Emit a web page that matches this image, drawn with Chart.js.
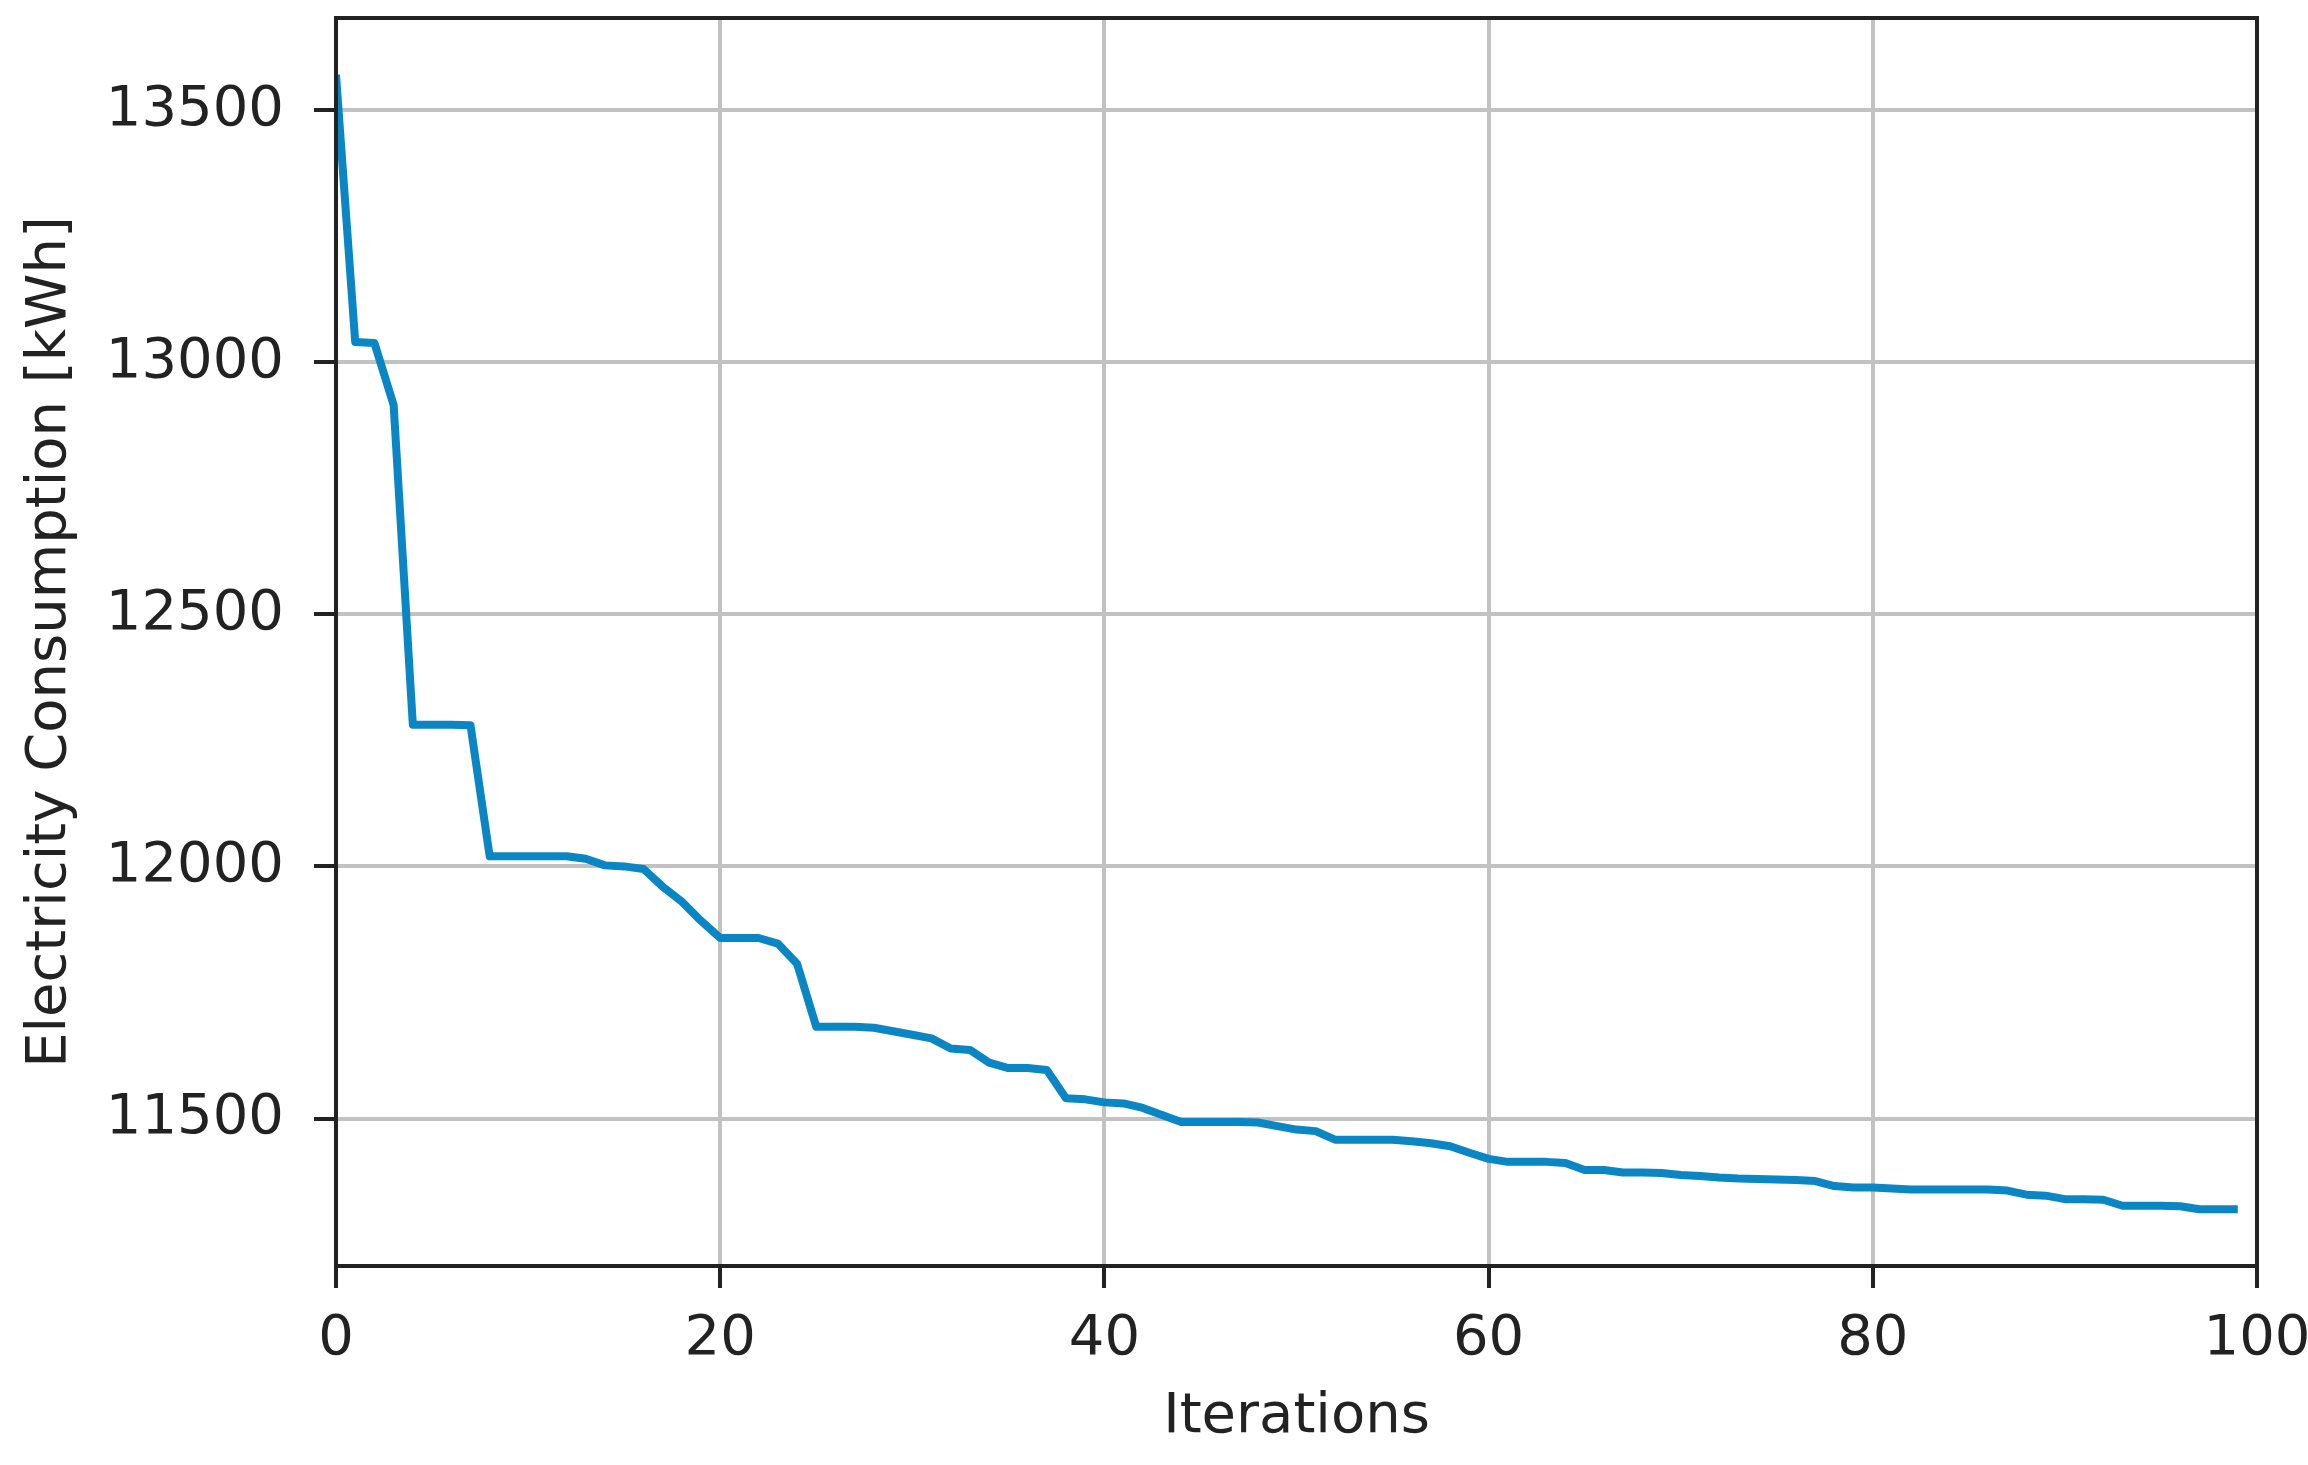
<!DOCTYPE html>
<html>
<head>
<meta charset="utf-8">
<script src="https://cdn.jsdelivr.net/npm/chart.js@4.4.1/dist/chart.umd.min.js"></script>
<style>
  html, body { margin: 0; padding: 0; background: #fff; }
  #wrap { width: 2308px; height: 1465px; position: relative; }
</style>
</head>
<body>
<div id="wrap"><canvas id="chart"></canvas></div>
<script>
// Iteration index (x axis)
const iterations = Array.from({ length: 100 }, (_, i) => i);

// Electricity consumption per iteration [kWh]
const consumption = [
    13570, 13040, 13038, 12915, 12281, 12281, 12281, 12280, 12020, 12020,
    12020, 12020, 12020, 12015, 12002, 12000, 11995, 11960, 11930, 11892,
    11858, 11858, 11858, 11847, 11807, 11682, 11682, 11682, 11680, 11673,
    11666, 11659, 11639, 11636, 11611, 11600, 11600, 11596, 11540, 11538,
    11532, 11530, 11521, 11507, 11493, 11493, 11493, 11493, 11492, 11485,
    11478, 11475, 11458, 11458, 11458, 11458, 11455, 11451, 11445, 11432,
    11420, 11414, 11414, 11414, 11412, 11398, 11398, 11393, 11393, 11392,
    11388, 11386, 11383, 11381, 11380, 11379, 11378, 11376, 11366, 11363,
    11363, 11361, 11359, 11359, 11359, 11359, 11359, 11357, 11349, 11347,
    11340, 11340, 11339, 11327, 11327, 11327, 11326, 11320, 11320, 11320
];

// Axis ticks and limits
const xTicks = [0, 20, 40, 60, 80, 100];
const yTicks = [11500, 12000, 12500, 13000, 13500];
const xLimits = [0, 100];
const yLimits = [11207.5, 13682.5];

const ink = '#222222';
const gridColor = '#c2c2c2';
const fontFamily = "'DejaVu Sans', sans-serif";

// Draw the full box around the plot area (matplotlib style spines)
const frame = {
    id: 'frame',
    afterDraw(chart) {
        const { ctx, chartArea: a } = chart;
        ctx.save();
        ctx.strokeStyle = ink;
        ctx.lineWidth = 4;
        ctx.strokeRect(a.left, a.top, a.right - a.left, a.bottom - a.top);
        ctx.restore();
    }
};

new Chart(document.getElementById('chart'), {
    type: 'line',
    data: {
        labels: iterations,
        datasets: [{
            data: consumption,
            borderColor: '#0a86c4',
            borderWidth: 8,
            tension: 0,
            pointRadius: 0,
            borderJoinStyle: 'round',
            fill: false
        }]
    },
    options: {
        responsive: true,
        maintainAspectRatio: false,
        animation: false,
        events: [],
        layout: { padding: { top: 18, right: 51, bottom: 0, left: 0 } },
        plugins: { legend: { display: false }, tooltip: { enabled: false } },
        scales: {
            x: {
                type: 'linear',
                min: xLimits[0],
                max: xLimits[1],
                afterBuildTicks: scale => { scale.ticks = xTicks.map(v => ({ value: v })); },
                afterFit: scale => {
                    scale.height = 199;
                    scale.paddingLeft = 0;
                    scale.paddingRight = 0;
                },
                border: { display: false },
                grid: { color: gridColor, lineWidth: 4, tickLength: 22, tickColor: ink, tickWidth: 4 },
                ticks: {
                    color: ink,
                    padding: 18,
                    maxRotation: 0,
                    callback: v => String(v),
                    font: { family: fontFamily, size: 56 }
                },
                title: {
                    display: true,
                    text: 'Iterations',
                    color: ink,
                    padding: { top: 0, bottom: 14 },
                    font: { family: fontFamily, size: 56 }
                }
            },
            y: {
                min: yLimits[0],
                max: yLimits[1],
                afterBuildTicks: scale => { scale.ticks = yTicks.map(v => ({ value: v })); },
                afterFit: scale => {
                    scale.width = 336;
                    scale.paddingTop = 0;
                    scale.paddingBottom = 0;
                },
                border: { display: false },
                grid: { color: gridColor, lineWidth: 4, tickLength: 22, tickColor: ink, tickWidth: 4 },
                ticks: {
                    color: ink,
                    padding: 30,
                    callback: v => String(v),
                    font: { family: fontFamily, size: 56 }
                },
                title: {
                    display: true,
                    text: 'Electricity Consumption [kWh]',
                    color: ink,
                    padding: { top: 17, bottom: 0 },
                    font: { family: fontFamily, size: 56 }
                }
            }
        }
    },
    plugins: [frame]
});
</script>
</body>
</html>
